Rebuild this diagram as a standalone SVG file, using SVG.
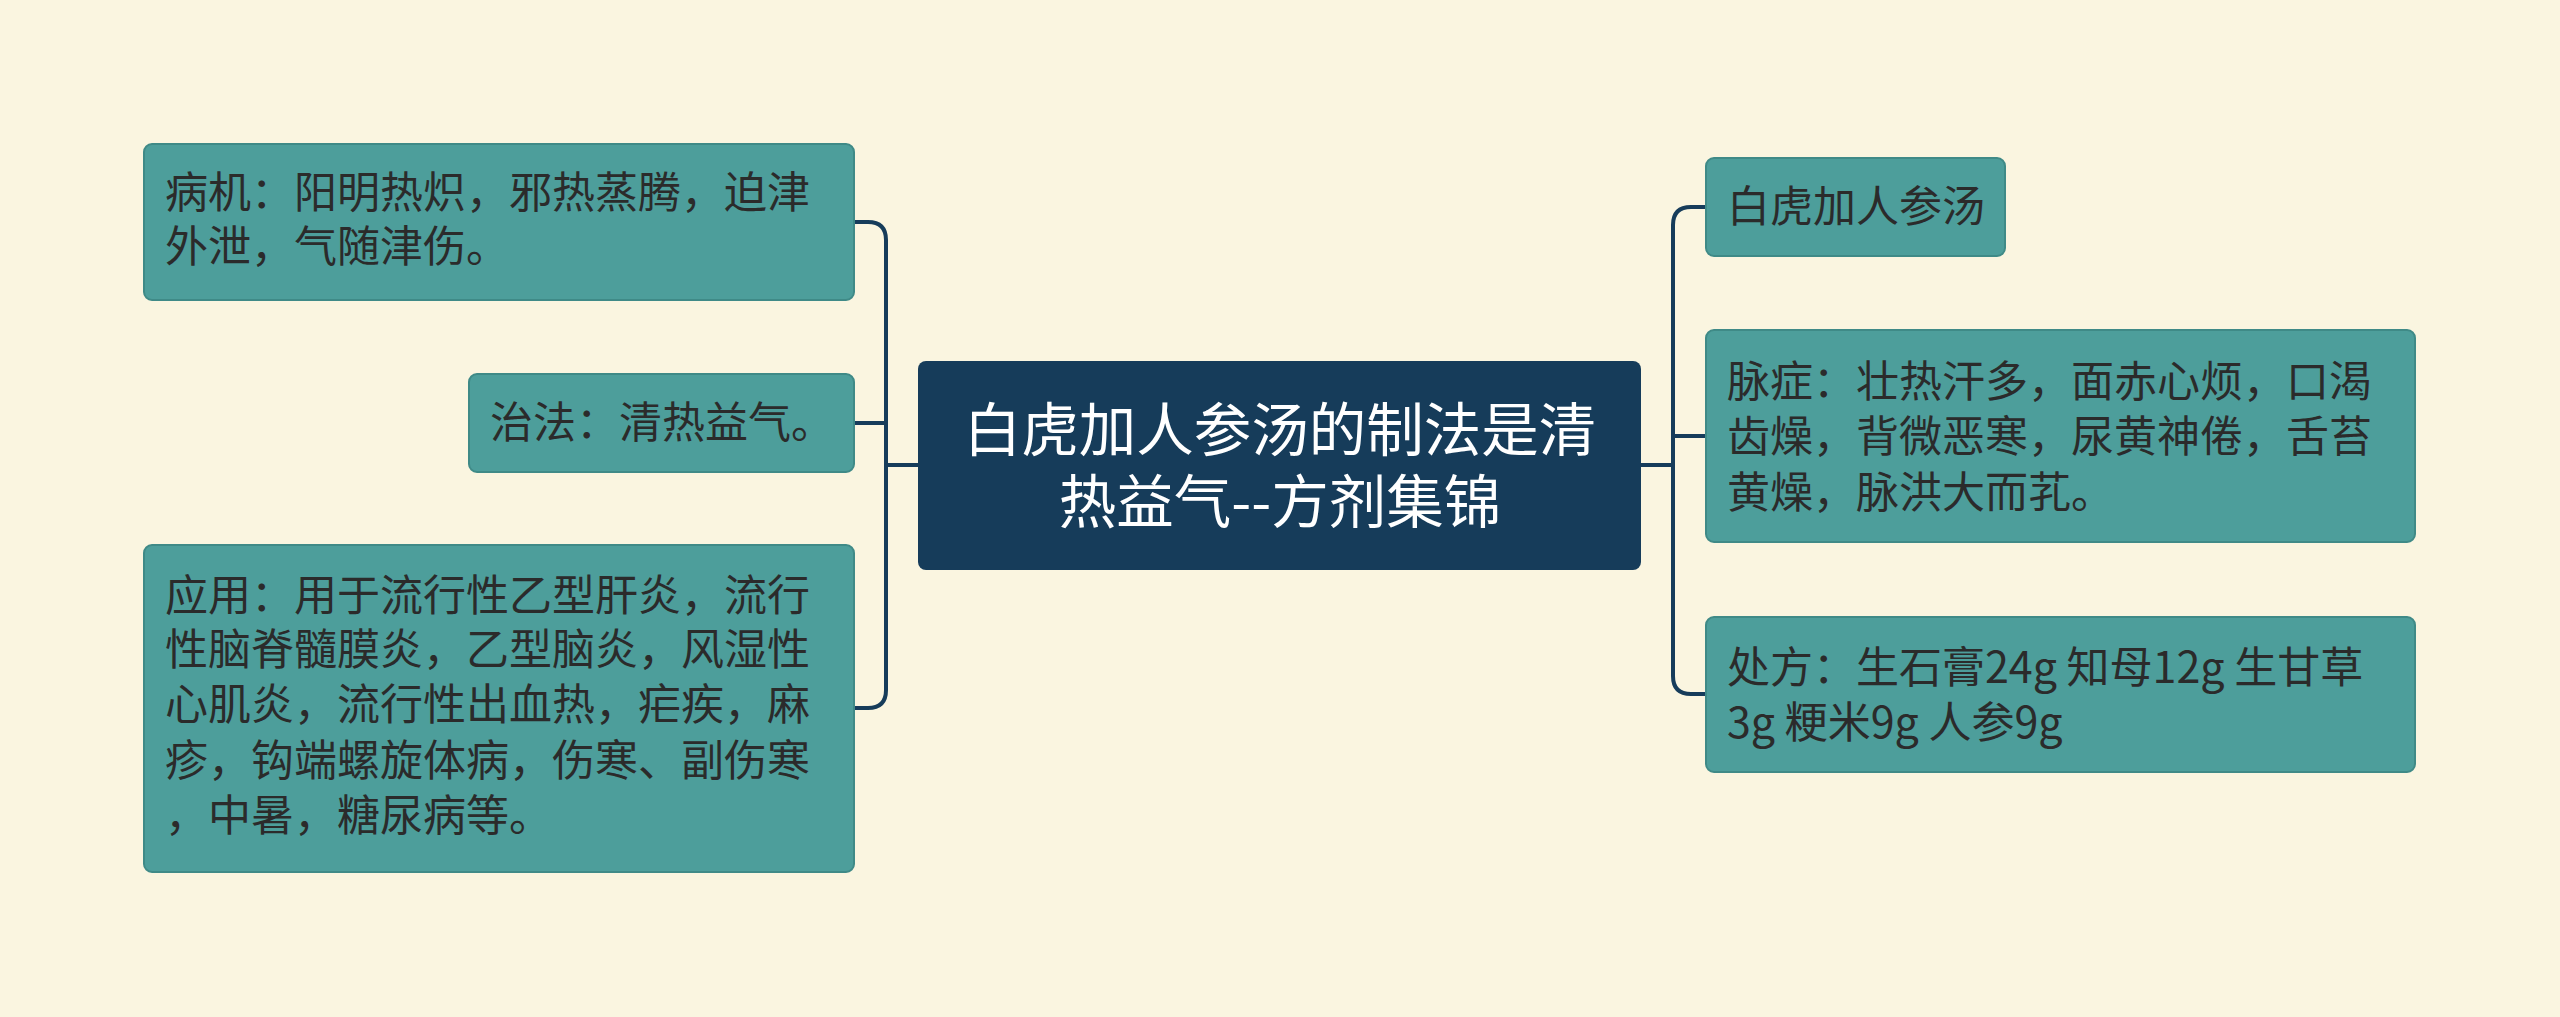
<svg xmlns="http://www.w3.org/2000/svg" width="2560" height="1017" viewBox="0 0 2560 1017">
<style>
.n{fill:#4d9e9b;stroke:#3f8a87;stroke-width:2}
.t{font-family:"Noto Sans CJK SC","Noto Sans",sans-serif;font-size:43px;fill:#2b2b2b}
.c{font-family:"Noto Sans CJK SC","Noto Sans",sans-serif;font-size:57.5px;fill:#ffffff;text-anchor:middle}
.l{fill:none;stroke:#163c5a;stroke-width:4}
</style>
<rect width="2560" height="1017" fill="#faf5e0"/>
<g id="connectors">
<path class="l" d="M918 465H886M886 465V240Q886 222 868 222H854M886 465V423H854M886 465V690Q886 708 868 708H854"/>
<path class="l" d="M1641 465H1673M1673 465V225Q1673 207 1691 207H1706M1673 465V436H1706M1673 465V676Q1673 694 1691 694H1706"/>
</g>
<g id="center"><rect x="918" y="361" width="723" height="209" rx="8" fill="#163c5a"/>
<text class="c" x="1280" y="451">白虎加人参汤的制法是清</text><text class="c" x="1280" y="523">热益气--方剂集锦</text></g>
<g id="n1"><rect class="n" x="144" y="144" width="710" height="156" rx="8"/>
<text class="t" x="165" y="208">病机：阳明热炽，邪热蒸腾，迫津</text><text class="t" x="165" y="262">外泄，气随津伤。</text></g>
<g id="n2"><rect class="n" x="469" y="374" width="385" height="98" rx="8"/>
<text class="t" x="490" y="438">治法：清热益气。</text></g>
<g id="n3"><rect class="n" x="144" y="545" width="710" height="327" rx="8"/>
<text class="t" x="165" y="611">应用：用于流行性乙型肝炎，流行</text><text class="t" x="165" y="665">性脑脊髓膜炎，乙型脑炎，风湿性</text><text class="t" x="165" y="720">心肌炎，流行性出血热，疟疾，麻</text><text class="t" x="165" y="776">疹，钩端螺旋体病，伤寒、副伤寒</text><text class="t" x="165" y="831">，中暑，糖尿病等。</text></g>
<g id="n4"><rect class="n" x="1706" y="158" width="299" height="98" rx="8"/>
<text class="t" x="1727" y="222">白虎加人参汤</text></g>
<g id="n5"><rect class="n" x="1706" y="330" width="709" height="212" rx="8"/>
<text class="t" x="1727" y="397">脉症：壮热汗多，面赤心烦，口渴</text><text class="t" x="1727" y="452">齿燥，背微恶寒，尿黄神倦，舌苔</text><text class="t" x="1727" y="508">黄燥，脉洪大而芤。</text></g>
<g id="n6"><rect class="n" x="1706" y="617" width="709" height="155" rx="8"/>
<text class="t" x="1727" y="683">处方：生石膏24g 知母12g 生甘草</text><text class="t" x="1727" y="738">3g 粳米9g 人参9g</text></g>
</svg>
